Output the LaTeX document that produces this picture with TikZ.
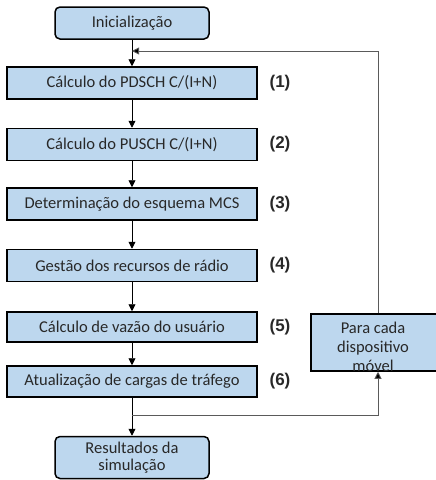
\documentclass[tikz,border=0pt]{standalone}
\usepackage{fontspec}
\setmainfont{Carlito}
\newfontfamily\labfont{Liberation Sans}
\usetikzlibrary{arrows.meta}
\definecolor{boxblue}{RGB}{189,215,238}
\definecolor{fbgray}{RGB}{90,90,90}
\definecolor{txt}{RGB}{40,40,40}
\begin{document}
\begin{tikzpicture}[x=1pt,y=-1pt,
  stepbox/.style={draw=black,line width=1.5pt,fill=boxblue,minimum width=250pt,minimum height=32pt,font=\fontsize{16.5}{19}\selectfont,text=txt,inner sep=0pt},
  termbox/.style={draw=black,line width=1.5pt,fill=boxblue,rounded corners=5pt,minimum width=154pt,minimum height=32pt,font=\fontsize{16.5}{17}\selectfont,text=txt,inner sep=0pt,align=center},
  numlab/.style={font=\labfont\bfseries\fontsize{17}{19}\selectfont,text=txt},
  arr/.style={draw=black,line width=0.9pt,-{Triangle[length=7pt,width=7pt]}},
  fbarr/.style={draw=fbgray,line width=0.9pt,-{Triangle[length=7pt,width=7pt,fill=black]}}]
\useasboundingbox (0,0) rectangle (436,480);
\begin{scope}
\clip (0,0) rectangle (436,480);
\node[termbox] (init) at (132,23) {Inicialização};
\node[stepbox] (s1) at (132,83) {Cálculo do PDSCH C/(I+N)};
\node[stepbox] (s2) at (132,144.5) {Cálculo do PUSCH C/(I+N)};
\node[stepbox] (s3) at (132,204) {Determinação do esquema MCS};
\node[stepbox] (s4) at (132,265.5) {Gestão dos recursos de rádio};
\node[stepbox,minimum height=30pt] (s5) at (132,327) {Cálculo de vazão do usuário};
\node[stepbox,minimum height=31pt] (s6) at (132,381.5) {Atualização de cargas de tráfego};
\node[termbox,minimum height=42pt] (res) at (132,457.5) {Resultados da\\simulação};
\node[draw=black,line width=1.5pt,fill=boxblue,minimum width=128pt,minimum height=57pt,inner sep=0pt] (loop) at (375,342.5) {};
\node[align=center,text=txt,font=\fontsize{16.5}{19}\selectfont,inner sep=0pt] (looptxt) at (373,346.5) {Para cada\\dispositivo\\móvel};
\end{scope}
\node[numlab] (l1) at (280,83) {(1)};
\node[numlab] (l2) at (280,144.5) {(2)};
\node[numlab] (l3) at (280,204) {(3)};
\node[numlab] (l4) at (280,265.5) {(4)};
\node[numlab] (l5) at (280,327) {(5)};
\node[numlab] (l6) at (280,381.5) {(6)};
\coordinate (top) at (132,51);
\coordinate (bot) at (132,415);
\draw[arr] (init) -- (s1);
\draw[arr] (s1) -- (s2);
\draw[arr] (s2) -- (s3);
\draw[arr] (s3) -- (s4);
\draw[arr] (s4) -- (s5);
\draw[arr] (s5) -- (s6);
\draw[arr] (s6) -- (res);
\draw[fbarr] (bot) -| (loop.south -| 378,0);
\draw[fbarr] (loop.north -| 378,0) |- (top);
\end{tikzpicture}
\end{document}
